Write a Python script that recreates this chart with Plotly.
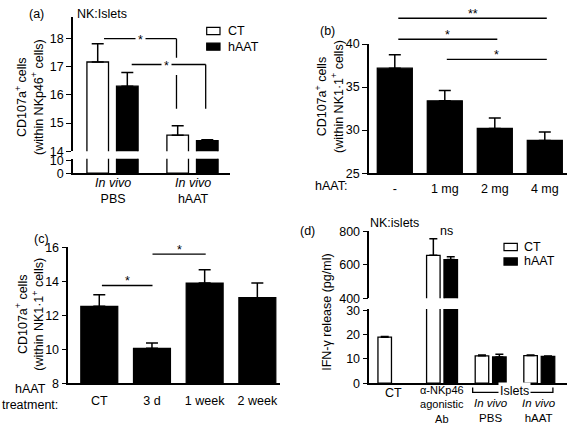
import plotly.graph_objects as go

W, H = 568, 433
FONT = "Liberation Sans, Arial, Helvetica, sans-serif"
FS = 12.5

# ---------------- data ----------------
# (a) NK:Islets, CD107a+ within NKp46+
a_labels = ["<i>In vivo</i><br>PBS", "<i>In vivo</i><br>hAAT"]
a_ct = [17.17, 14.57]
a_ct_err = [0.65, 0.33]
a_haat = [16.31, 14.37]
a_haat_err = [0.49, 0.04]
a_upper_ticks = [14, 15, 16, 17, 18]
a_lower_ticks = [0, 10]

# (b) hAAT dose
b_categories = ["-", "1 mg", "2 mg", "4 mg"]
b_values = [37.2, 33.4, 30.2, 28.8]
b_err = [1.57, 1.2, 1.2, 0.97]
b_ticks = [25, 30, 35, 40]

# (c) hAAT treatment duration
c_categories = ["CT", "3 d", "1 week", "2 week"]
c_values = [12.52, 10.05, 13.89, 13.03]
c_err = [0.68, 0.32, 0.78, 0.86]
c_ticks = [8, 10, 12, 14, 16]

# (d) IFN-gamma release
d_labels = ["CT", "α-NKp46<br>agonistic<br>Ab", "<i>In vivo</i><br>PBS", "<i>In vivo</i><br>hAAT"]
d_ct = [19.0, 657, 11.3, 11.4]
d_ct_err = [0.3, 100, 0.3, 0.2]
d_haat = [None, 632, 10.8, 11.1]
d_haat_err = [0, 16, 1.1, 0.1]
d_upper_ticks = [400, 600, 800]
d_lower_ticks = [0, 10, 20, 30]


def fx(px):
    return px / W


def fy(py):
    return 1 - py / H


def bars(x, y, err, fill, xa, ya, width, offset, capw=6):
    kw = dict(x=x, y=y, xaxis=xa, yaxis=ya, width=width, offset=offset,
              marker=dict(color=fill, line=dict(color="black", width=1.3)),
              showlegend=False, hoverinfo="skip")
    if err is not None:
        kw["error_y"] = dict(type="data", array=err, arrayminus=[0] * len(err),
                             symmetric=False, color="black", thickness=1.5, width=capw)
    return go.Bar(**kw)


def yax(dom, rng, ticks, anchor):
    return dict(domain=[fy(dom[0]), fy(dom[1])], range=rng, tickvals=ticks,
                ticks="outside", ticklen=5, tickwidth=1.2, tickcolor="black",
                showline=True, linewidth=1.5, linecolor="black", showgrid=False,
                zeroline=False, tickfont=dict(size=FS, color="black", family=FONT),
                anchor=anchor, fixedrange=True)


def xax(dom, rng, anchor, show=True, tickvals=None, ticktext=None, standoff=3):
    d = dict(domain=[fx(dom[0]), fx(dom[1])], range=rng, showline=show,
             linewidth=1.5, linecolor="black", showgrid=False, zeroline=False,
             ticks="", anchor=anchor, fixedrange=True,
             tickfont=dict(size=FS, color="black", family=FONT))
    if tickvals is not None:
        d.update(tickvals=tickvals, ticktext=ticktext, showticklabels=True, ticklabelstandoff=standoff)
    else:
        d["showticklabels"] = False
    return d


traces = []
ia = list(range(len(a_ct)))
ib = list(range(len(b_values)))
ic = list(range(len(c_values)))
idd = list(range(len(d_ct)))

# (a) upper and lower segments
for xa, ya, e1, e2 in [("x", "y", a_ct_err, a_haat_err), ("x2", "y2", None, None)]:
    traces.append(bars(ia, a_ct, e1, "white", xa, ya, 0.27, -0.33))
    traces.append(bars(ia, a_haat, e2, "black", xa, ya, 0.27, 0.04))
# (b)
traces.append(bars(ib, b_values, b_err, "black", "x3", "y3", 0.7, -0.35))
# (c)
traces.append(bars(ic, c_values, c_err, "black", "x4", "y4", 0.7, -0.35))
# (d) upper and lower segments
for xa, ya in [("x5", "y5"), ("x6", "y6")]:
    traces.append(bars(idd, d_ct, d_ct_err, "white", xa, ya, 0.278, -0.318, 4))
    traces.append(bars(idd, d_haat, d_haat_err, "black", xa, ya, 0.278, 0.04, 4))

fig = go.Figure(traces)

a_xr = [-0.504, 1.459]
b_xr = [-0.516, 3.45]
c_xr = [-0.588, 3.43]
d_xr = [-0.496, 3.57]

fig.update_layout(
    width=W, height=H, margin=dict(l=0, r=0, t=0, b=0),
    paper_bgcolor="white", plot_bgcolor="rgba(0,0,0,0)",
    font=dict(family=FONT, size=FS, color="black"),
    showlegend=False, barmode="overlay",
    xaxis=xax((73, 230), a_xr, "y", show=False),
    yaxis=yax((149, 10), [14, 18.78], a_upper_ticks, "x"),
    xaxis2=xax((73, 230), a_xr, "y2"),
    yaxis2=yax((171.7, 156.7), [0, 11.8], a_lower_ticks, "x2"),
    xaxis3=xax((369, 567.3), b_xr, "y3", tickvals=ib, ticktext=b_categories, standoff=3),
    yaxis3=yax((171.7, 38.3), [25, 40], b_ticks, "x3"),
    xaxis4=xax((68.3, 280), c_xr, "y4", tickvals=ic, ticktext=c_categories, standoff=5),
    yaxis4=yax((388.7, 248.3), [8, 16], c_ticks, "x4"),
    xaxis5=xax((369.3, 567), d_xr, "y5", show=False),
    yaxis5=yax((301, 232), [400, 800], d_upper_ticks, "x5"),
    xaxis6=xax((369.3, 567), d_xr, "y6"),
    yaxis6=yax((388.7, 312), [0, 30.7], d_lower_ticks, "x6"),
)

ann = []
shapes = []
LW = 1.3


def text(t, x, y, xref="paper", yref="paper", xanchor="center", yanchor="middle", **kw):
    d = dict(text=t, x=x, y=y, xref=xref, yref=yref, xanchor=xanchor, yanchor=yanchor,
             showarrow=False, font=dict(size=kw.pop("size", FS), color="black", family=FONT))
    d.update(kw)
    ann.append(d)


def line(x0, y0, x1, y1, xref="paper", yref="paper"):
    shapes.append(dict(type="line", x0=x0, y0=y0, x1=x1, y1=y1, xref=xref, yref=yref,
                       line=dict(color="black", width=LW)))


def legend_box(x0, y0, x1, y1, fill):
    shapes.append(dict(type="rect", x0=fx(x0), x1=fx(x1), y0=fy(y0), y1=fy(y1),
                       xref="paper", yref="paper", fillcolor=fill,
                       line=dict(color="black", width=1.2)))


# ---- panel (a) ----
text("(a)", fx(36.7), fy(7))
text("NK:Islets", fx(75), fy(7.5), xanchor="left")
text("CD107a<sup>+</sup> cells<br>(within NKp46<sup>+</sup> cells)", fx(30), fy(93), textangle=-90)
for i in ia:
    text(a_labels[i], i, fy(190.5), "x2")
legend_box(206.7, 21, 220, 28.5, "white")
legend_box(206.7, 37.3, 220, 44.7, "black")
text("CT", fx(226), fy(25), xanchor="left")
text("hAAT", fx(226), fy(41), xanchor="left")
# significance brackets
line(-0.116, 18, 0.79, 18, "x", "y")
line(0.79, 18, 0.79, 17.32, "x", "y")
line(0.79, 16.71, 0.79, 15.51, "x", "y")
line(0.23, 17.08, 1.155, 17.08, "x", "y")
line(1.155, 17.08, 1.155, 15.51, "x", "y")
text("*", 0.34, 18, "x", "y", bgcolor="white", borderpad=2, yshift=-1)
text("*", 0.67, 17.08, "x", "y", bgcolor="white", borderpad=2, yshift=-1)

# ---- panel (b) ----
text("(b)", fx(327), fy(25))
text("CD107a<sup>+</sup> cells<br>(within NK1·1<sup>+</sup> cells)", fx(330), fy(93), textangle=-90)
text("hAAT:", fx(331), fy(185))


def ydom(v, lo, hi):
    return (v - lo) / (hi - lo)


for x0, x1, v, star in [(0.07, 3.04, 43.0, "**"), (0.07, 2.05, 40.56, "*"), (1.04, 3.04, 38.23, "*")]:
    line(x0, ydom(v, 25, 40), x1, ydom(v, 25, 40), "x3", "y3 domain")
    text(star, (x0 + x1) / 2, ydom(v, 25, 40), "x3", "y3 domain", yshift=4)

# ---- panel (c) ----
text("(c)", fx(41.7), fy(240))
text("CD107a<sup>+</sup> cells<br>(within NK1·1<sup>+</sup> cells)", fx(30), fy(318), textangle=-90)
text("hAAT<br>treatment:", fx(29.5), fy(403))
for x0, x1, v in [(0.05, 1.01, 13.75), (1.01, 2.02, 15.6)]:
    line(x0, v, x1, v, "x4", "y4")
    text("*", (x0 + x1) / 2, v, "x4", "y4", yshift=4)

# ---- panel (d) ----
text("(d)", fx(307.3), fy(232))
text("NK:islets", fx(394), fy(223.5))
text("ns", 1.1, fy(232), "x5")
text("IFN-γ release (pg/ml)", fx(327), fy(316), textangle=-90)
legend_box(504, 244.3, 517.3, 251.7, "white")
legend_box(504, 259.3, 517.3, 266.7, "black")
text("CT", fx(521.5), fy(248), xanchor="left")
text("hAAT", fx(521.5), fy(263), xanchor="left")
d_label_centres = [398.5, 410.5, 416.5, 416.5]
d_label_sizes = [FS, 11, 11.5, 11.5]
for i, t in enumerate(d_labels):
    text(t, i, fy(d_label_centres[i]), "x6", size=d_label_sizes[i])
# Islets bracket
shapes.append(dict(type="path", xref="x6", yref="paper",
                   path="M1.63,%f L1.63,%f L3.28,%f L3.28,%f" % (fy(393.3), fy(398.3), fy(398.3), fy(393.3)),
                   line=dict(color="black", width=LW)))
text("Islets", 2.5, fy(397.3), "x6", bgcolor="white", borderpad=1)

fig.update_layout(annotations=ann, shapes=shapes)

fig.write_html("out.html", config={"displayModeBar": False},
               post_script="document.body.style.margin='0';")
